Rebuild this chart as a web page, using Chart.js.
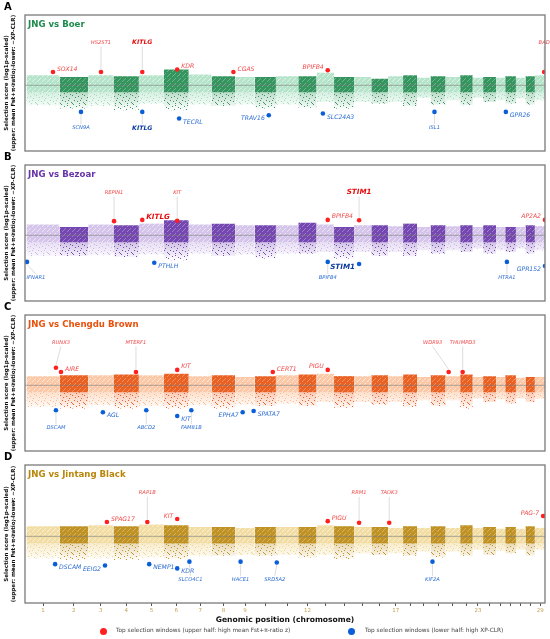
<!DOCTYPE html>
<html>
<head>
<meta charset="utf-8">
<script src="https://cdn.jsdelivr.net/npm/chart.js@4.4.1/dist/chart.umd.min.js"></script>
<style>
  body { margin: 0; background: #fff; width: 550px; height: 639px; position: relative; overflow: hidden; font-family: "DejaVu Sans", sans-serif; }
  canvas { position: absolute; left: 0; }
  .letter { position: absolute; left: 4px; font-weight: bold; font-size: 10px; color: #000; z-index: 2; }
  .leg { position: absolute; top: 627px; font-size: 5.8px; color: #444; white-space: nowrap; }
  .dot { position: absolute; top: 628px; width: 7px; height: 7px; border-radius: 50%; }
</style>
</head>
<body>
<div class="letter" style="top:1px">A</div>
<div class="letter" style="top:151px">B</div>
<div class="letter" style="top:301px">C</div>
<div class="letter" style="top:451px">D</div>
<canvas id="cA" width="550" height="160" style="top:0"></canvas>
<canvas id="cB" width="550" height="160" style="top:150px"></canvas>
<canvas id="cC" width="550" height="160" style="top:300px"></canvas>
<canvas id="cD" width="550" height="175" style="top:450px"></canvas>
<div class="dot" style="left:100px;background:#ff1f1f"></div>
<div class="leg" style="left:116px">Top selection windows (upper half: high mean Fst+π-ratio z)</div>
<div class="dot" style="left:348px;background:#0a5fd8"></div>
<div class="leg" style="left:365px">Top selection windows (lower half: high XP-CLR)</div>
<script>
// chromosome sizes (Mb) and axis labels
const chrLen = [157, 136, 120, 121, 119, 118, 108, 113, 92, 101, 106, 87, 83, 95, 82, 80, 71, 66, 64, 72, 69, 60, 49, 62, 43, 51, 45, 45, 51];
const chrTickText = ['1','2','3','4','5','6','7','8','9','','','12','','','','','17','','','','','','23','','','','','','29'];
const yTicks = [-4, -2, 0, 2, 4];
const coreDepth = -0.85;

// cloud extent per chromosome (top of dense band, bottom of XP-CLR scatter)
const boerUpper = [1.2, 1.0, 1.2, 1.1, 1.2, 1.9, 1.3, 1.1, 1.0, 1.0, 1.1, 1.1, 1.5, 1.0, 1.0, 0.8, 1.1, 1.2, 0.9, 1.1, 1.0, 1.2, 0.9, 1.0, 0.9, 1.1, 0.9, 1.1, 1.2];
const boerLower = [-2.4, -2.8, -2.5, -3.0, -2.2, -3.0, -2.3, -2.5, -2.3, -2.8, -2.3, -2.7, -2.0, -2.8, -2.0, -2.2, -2.0, -2.5, -1.5, -2.3, -1.8, -2.4, -1.5, -2.0, -1.8, -2.2, -1.6, -2.3, -1.8];
const bezoarUpper = [1.3, 1.0, 1.3, 1.2, 1.4, 1.8, 1.3, 1.4, 1.2, 1.2, 1.2, 1.5, 1.3, 1.0, 1.2, 1.2, 1.1, 1.4, 1.0, 1.2, 1.1, 1.2, 1.0, 1.2, 1.0, 1.0, 1.0, 1.2, 1.1];
const bezoarLower = [-2.5, -2.5, -2.4, -2.6, -2.3, -3.0, -2.2, -2.5, -2.3, -2.8, -2.2, -2.2, -2.0, -2.8, -2.0, -2.5, -2.0, -2.5, -1.8, -2.2, -1.8, -2.0, -1.6, -2.2, -1.8, -2.0, -1.6, -2.2, -1.8];
const chengduUpper = [1.1, 1.2, 1.2, 1.3, 1.2, 1.4, 1.1, 1.2, 1.0, 1.1, 1.2, 1.3, 1.4, 1.1, 1.1, 1.2, 1.1, 1.3, 1.0, 1.2, 1.1, 1.3, 1.0, 1.1, 1.0, 1.2, 0.9, 1.0, 1.0];
const chengduLower = [-2.6, -2.8, -2.4, -2.8, -2.5, -2.8, -2.4, -2.8, -2.3, -2.5, -2.2, -2.5, -2.0, -2.7, -2.0, -2.3, -2.0, -2.6, -1.8, -2.5, -1.8, -2.8, -1.6, -2.0, -1.7, -2.2, -1.6, -2.0, -1.6];
const jintangUpper = [1.2, 1.2, 1.3, 1.2, 1.4, 1.3, 1.1, 1.1, 1.0, 1.1, 1.1, 1.1, 1.3, 1.2, 1.1, 1.1, 1.0, 1.2, 1.0, 1.2, 1.0, 1.3, 1.0, 1.1, 0.9, 1.1, 0.9, 1.2, 1.0];
const jintangLower = [-2.6, -2.8, -2.6, -2.8, -2.5, -2.7, -2.3, -2.3, -2.2, -2.3, -2.2, -2.5, -2.2, -2.7, -2.0, -2.2, -2.0, -2.3, -1.8, -2.5, -1.8, -2.3, -1.6, -2.2, -1.7, -2.0, -1.6, -2.3, -1.6];

// top windows: [gene, chromosome, position (Mb), score]
const boerTop = [['SOX14', 1, 126, 1.6], ['HS2ST1', 3, 61, 1.6], ['KITLG', 5, 16, 1.6], ['KDR', 6, 63, 1.9], ['CGAS', 8, 104, 1.6], ['BPIFB4', 13, 53, 1.8], ['BAD', 29, 44, 1.6]];
const boerBottom = [['SCN9A', 2, 102, -3.2], ['KITLG', 5, 16, -3.2], ['TECRL', 6, 72, -4.0], ['TRAV16', 10, 67, -3.6], ['SLC24A3', 13, 30, -3.4], ['ISL1', 20, 19, -3.2], ['GPR26', 26, 3, -3.2]];
const bezoarTop = [['REPIN1', 4, 3, 1.7], ['KITLG', 5, 16, 1.85], ['KIT', 6, 63, 1.75], ['BPIFB4', 13, 53, 1.85], ['STIM1', 15, 24, 1.8], ['AP2A2', 29, 48, 1.85]];
const bezoarBottom = [['IFNAR1', 1, 2.5, -3.2], ['PTHLH', 5, 73, -3.3], ['BPIFB4', 13, 53, -3.2], ['STIM1', 15, 24, -3.45], ['HTRA1', 26, 8, -3.2], ['GPR152', 29, 48, -3.7]];
const chengduTop = [['RUNX3', 1, 140, 2.1], ['AIRE', 2, 7, 1.6], ['MTERF1', 4, 107, 1.6], ['KIT', 6, 63, 1.85], ['CERT1', 10, 86, 1.6], ['PIGU', 13, 53, 1.85], ['WDR93', 21, 14.5, 1.6], ['THUMPD3', 22, 12, 1.6]];
const chengduBottom = [['DSCAM', 1, 140, -3.0], ['AGL', 3, 70, -3.25], ['ABCD2', 5, 35, -3.0], ['KIT', 6, 63, -3.7], ['FAM81B', 7, 12, -3.0], ['EPHA7', 9, 35, -3.25], ['SPATA7', 9, 87, -3.1]];
const jintangTop = [['SPAG17', 3, 89, 1.7], ['RAP1B', 5, 40, 1.7], ['KIT', 6, 63, 2.05], ['PIGU', 13, 53, 1.8], ['RRM1', 15, 24, 1.6], ['TAOK3', 17, 5, 1.6], ['PAG-7', 29, 39, 2.4]];
const jintangBottom = [['DSCAM', 1, 136, -3.3], ['EEIG2', 3, 80, -3.45], ['NEMP1', 5, 49, -3.3], ['KDR', 6, 63, -3.8], ['SLCO4C1', 7, 3, -3.0], ['HACE1', 9, 25, -3.0], ['SRD5A2', 11, 4, -3.1], ['KIF2A', 20, 9.5, -3.0]];

// label placement: r/l = side, a/b = above/below with leader, B = bold, L = large, :n = x shift
const boerTopPlace = ['r', 'a', 'aB', 'r', 'r', 'l', 'a'];
const boerBottomPlace = ['b', 'bB', 'r', 'l', 'r', 'b', 'r'];
const bezoarTopPlace = ['a', 'rBL', 'a', 'r', 'aBL', 'l'];
const bezoarBottomPlace = ['b:9', 'r', 'b', 'lBL', 'b', 'l'];
const chengduTopPlace = ['a:5', 'r', 'a', 'r', 'r', 'l', 'a:-16', 'a'];
const chengduBottomPlace = ['b', 'r', 'b', 'r', 'b', 'l', 'r'];
const jintangTopPlace = ['r', 'a', 'l', 'r', 'a', 'a', 'l'];
const jintangBottomPlace = ['r', 'l', 'r', 'r', 'b:1', 'b', 'b:-2', 'b'];

let acc = 0;
const chrStart = chrLen.map(l => { const s = acc; acc += l; return s; });
const chrMid = chrLen.map((l, i) => chrStart[i] + l / 2);

Chart.defaults.font.family = '"DejaVu Sans", sans-serif';

function rgba(hex, a) {
  const n = parseInt(hex.slice(1), 16);
  return `rgba(${n >> 16},${(n >> 8) & 255},${n & 255},${a})`;
}

function speckle(ctx, base, baseAlpha, dot, dotAlpha, pts, w, h) {
  const c = document.createElement('canvas');
  c.width = w; c.height = h;
  const g = c.getContext('2d');
  g.globalAlpha = baseAlpha; g.fillStyle = base; g.fillRect(0, 0, w, h);
  g.globalAlpha = dotAlpha; g.fillStyle = dot;
  pts.forEach(([x, y]) => g.fillRect(x, y, 1, 1));
  return ctx.createPattern(c, 'repeat');
}

// fading wash under the XP-CLR scatter
function fade(color, a0) {
  return c => {
    const { ctx, chartArea, scales } = c.chart;
    if (!chartArea) return rgba(color, a0);
    const g = ctx.createLinearGradient(0, scales.y.getPixelForValue(coreDepth), 0, scales.y.getPixelForValue(-3));
    g.addColorStop(0, rgba(color, a0));
    g.addColorStop(1, rgba(color, 0));
    return g;
  };
}

const framePlugin = {
  id: 'frame',
  afterDatasetsDraw(chart, args, opts) {
    const { ctx, chartArea: a, scales: { y } } = chart;
    ctx.save();
    // zero line
    const y0 = y.getPixelForValue(0);
    ctx.strokeStyle = 'rgba(120,120,120,0.75)';
    ctx.lineWidth = 0.8;
    ctx.beginPath(); ctx.moveTo(a.left, y0); ctx.lineTo(a.right, y0); ctx.stroke();

    // gene labels
    chart.data.datasets.forEach((ds, di) => {
      if (!ds.genes) return;
      const meta = chart.getDatasetMeta(di);
      meta.data.forEach((pt, i) => {
        const [code, shift] = ds.place[i].split(':');
        const pos = code[0];
        const bold = code.includes('B'), large = code.includes('L');
        let size = (pos === 'a' || pos === 'b') ? 5.2 : 6.1;
        if (bold) size = 6.2;
        if (large) size = 7.2;
        ctx.font = 'italic ' + (bold ? 'bold ' : '') + size + 'px "DejaVu Sans"';
        ctx.fillStyle = bold ? ds.boldColor : ds.labelColor;
        ctx.textBaseline = 'middle';
        let tx, ty;
        if (pos === 'r' || pos === 'l') {
          ctx.textAlign = pos === 'r' ? 'left' : 'right';
          tx = pt.x + (pos === 'r' ? 4 : -4);
          ty = pt.y + (ds.up ? -3 : 3.5);
        } else {
          ctx.textAlign = 'center';
          tx = pt.x + (shift ? +shift : 0);
          ty = y.getPixelForValue(ds.up ? 5.15 : -5.15);
          ctx.save();
          ctx.strokeStyle = '#cfcfcf';
          ctx.lineWidth = 0.7;
          ctx.beginPath();
          if (ds.up) { ctx.moveTo(tx, ty + 4); ctx.lineTo(pt.x, pt.y - 2.5); }
          else { ctx.moveTo(pt.x, pt.y + 2.5); ctx.lineTo(tx, ty - 4); }
          ctx.stroke();
          ctx.restore();
        }
        ctx.fillText(ds.genes[i], tx, ty);
      });
    });

    // panel frame and title
    ctx.strokeStyle = '#7a7a7a';
    ctx.lineWidth = 1.3;
    ctx.strokeRect(a.left, a.top, a.right - a.left, a.bottom - a.top);
    ctx.font = 'bold 8.6px "DejaVu Sans"';
    ctx.fillStyle = opts.color;
    ctx.textAlign = 'left';
    ctx.textBaseline = 'middle';
    ctx.fillText(opts.title, a.left + 3, a.top + 10);
    ctx.restore();
  }
};

const panels = [
  { id: 'cA', title: 'JNG vs Boer', dark: '#1e8a4c', light: '#a3ddbd', upper: boerUpper, lower: boerLower, top: boerTop, bottom: boerBottom, topPlace: boerTopPlace, bottomPlace: boerBottomPlace },
  { id: 'cB', title: 'JNG vs Bezoar', dark: '#6634a8', light: '#cbb6e6', upper: bezoarUpper, lower: bezoarLower, top: bezoarTop, bottom: bezoarBottom, topPlace: bezoarTopPlace, bottomPlace: bezoarBottomPlace },
  { id: 'cC', title: 'JNG vs Chengdu Brown', dark: '#e8500c', light: '#fbbc92', upper: chengduUpper, lower: chengduLower, top: chengduTop, bottom: chengduBottom, topPlace: chengduTopPlace, bottomPlace: chengduBottomPlace },
  { id: 'cD', title: 'JNG vs Jintang Black', dark: '#b8860b', light: '#efd68e', upper: jintangUpper, lower: jintangLower, top: jintangTop, bottom: jintangBottom, topPlace: jintangTopPlace, bottomPlace: jintangBottomPlace, axis: true }
];

panels.forEach(p => {
  const ctx = document.getElementById(p.id).getContext('2d');
  const sparseDots = [[1, 0], [7, 1], [4, 2], [10, 3], [0, 4], [6, 5], [3, 6], [9, 7], [2, 9], [8, 9], [5, 10], [11, 11], [0, 12], [7, 12]];
  const holeDots = [[2, 1], [0, 3], [4, 4], [3, 0]];
  const pats = {
    darkSparse: speckle(ctx, p.dark, 0, p.dark, 0.85, sparseDots, 12, 13),
    lightSparse: speckle(ctx, p.light, 0, p.light, 1, sparseDots, 12, 13),
    darkDense: speckle(ctx, p.dark, 0.9, '#ffffff', 0.3, holeDots, 5, 5),
    lightDense: speckle(ctx, p.light, 0.8, '#ffffff', 0.55, holeDots, 5, 5)
  };
  const datasets = [];
  chrLen.forEach((len, i) => {
    const dark = i % 2 === 1;
    const s = chrStart[i], e = s + len;
    const col = dark ? p.dark : p.light;
    datasets.push({ type: 'line', data: [{ x: s, y: p.lower[i] }, { x: e, y: p.lower[i] }], fill: { value: coreDepth },
      backgroundColor: fade(col, dark ? 0.3 : 0.45), borderWidth: 0, pointRadius: 0, order: 6 });
    datasets.push({ type: 'line', data: [{ x: s, y: p.lower[i] }, { x: e, y: p.lower[i] }], fill: { value: coreDepth },
      backgroundColor: dark ? pats.darkSparse : pats.lightSparse, borderWidth: 0, pointRadius: 0, order: 5 });
    datasets.push({ type: 'line', data: [{ x: s, y: p.upper[i] }, { x: e, y: p.upper[i] }], fill: { value: coreDepth },
      backgroundColor: dark ? pats.darkDense : pats.lightDense, borderWidth: 0, pointRadius: 0, order: 4 });
  });
  datasets.push({ type: 'scatter', data: p.top.map(t => ({ x: chrStart[t[1] - 1] + t[2], y: t[3] })),
    genes: p.top.map(t => t[0]), place: p.topPlace, up: true, labelColor: '#f04848', boldColor: '#e60f0f',
    backgroundColor: '#ff1f1f', pointRadius: 2.3, borderWidth: 0, order: 1 });
  datasets.push({ type: 'scatter', data: p.bottom.map(t => ({ x: chrStart[t[1] - 1] + t[2], y: t[3] })),
    genes: p.bottom.map(t => t[0]), place: p.bottomPlace, up: false, labelColor: '#2c6cd2', boldColor: '#0b3c9e',
    backgroundColor: '#0a5fd8', pointRadius: 2.3, borderWidth: 0, order: 1 });

  const xScale = {
    type: 'linear', min: -7, max: 2463,
    display: !!p.axis,
    afterBuildTicks: s => { s.ticks = chrMid.map(v => ({ value: v })); },
    ticks: { autoSkip: false, maxRotation: 0, font: { size: 5.5 }, color: '#c4a255', padding: 1,
      callback: (v, i) => chrTickText[i] },
    grid: { display: true, drawOnChartArea: false, drawTicks: true, tickLength: 3, color: '#555' },
    border: { display: false },
    title: { display: true, text: 'Genomic position (chromosome)', font: { size: 7.6, weight: 'bold' }, color: '#111', padding: { top: 1, bottom: 0 } }
  };
  if (p.axis) xScale.afterFit = s => { s.height = 22; };

  new Chart(ctx, {
    type: 'scatter',
    data: { datasets },
    plugins: [framePlugin],
    options: {
      responsive: false,
      animation: false,
      layout: { padding: { left: 0, right: 5, top: 15, bottom: p.axis ? 0 : 9 } },
      plugins: {
        legend: { display: false },
        tooltip: { enabled: false },
        frame: { title: p.title, color: p.dark }
      },
      scales: {
        x: xScale,
        y: {
          min: -7.9, max: 8.45,
          afterBuildTicks: s => { s.ticks = yTicks.map(v => ({ value: v })); },
          afterFit: s => { s.width = 25; },
          ticks: { font: { size: 5.8 }, color: '#333', padding: 2, callback: v => Math.abs(v) },
          grid: { display: false },
          border: { display: false },
          title: { display: true, text: ['Selection score (log1p-scaled)', '(upper: mean Fst+π-ratio, lower: −XP-CLR)'],
            font: { size: 5.6, weight: 'bold' }, color: '#111', padding: { top: 3, bottom: 0 } }
        }
      }
    }
  });
});
</script>
</body>
</html>
